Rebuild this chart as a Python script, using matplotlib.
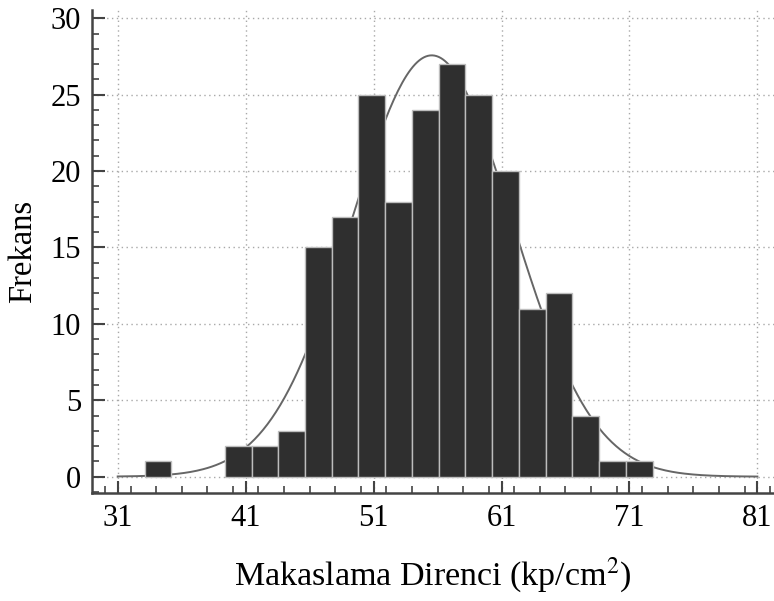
import numpy as np
import matplotlib
matplotlib.use("Agg")
import matplotlib.pyplot as plt
from matplotlib.ticker import MultipleLocator

# histogram counts (bins of ~2.09 starting at ~33.1)
counts = [1, 0, 0, 2, 2, 3, 15, 17, 25, 18, 24, 27, 25, 20, 11, 12, 4, 1, 1]
bin_start = 33.1
bin_width = 2.09

x_ticks = [31, 41, 51, 61, 71, 81]
y_ticks = [0, 5, 10, 15, 20, 25, 30]

plt.rcParams["font.family"] = ["Liberation Serif", "DejaVu Serif"]
plt.rcParams["mathtext.fontset"] = "stix"

counts = np.array(counts)
edges = bin_start + bin_width * np.arange(len(counts) + 1)
mids = (edges[:-1] + edges[1:]) / 2

# normal fit from the binned data
n = counts.sum()
mu = (mids * counts).sum() / n
sd = np.sqrt(((mids - mu) ** 2 * counts).sum() / n)
xs = np.linspace(x_ticks[0], x_ticks[-1], 300)
fit = n * bin_width * np.exp(-0.5 * ((xs - mu) / sd) ** 2) / (sd * np.sqrt(2 * np.pi))

fig = plt.figure(figsize=(7.74, 6.01), dpi=100)
ax = fig.add_axes([92 / 774, 1 - 493 / 601, 682 / 774, 483 / 601])

ax.set_xlim(28.99, 82.3)
ax.set_ylim(-1.07, 30.54)

for xv in x_ticks:
    ax.axvline(xv, color="#a8a8a8", lw=1.0, ls=(0, (1, 2.5)), zorder=0)
for yv in y_ticks:
    ax.axhline(yv, color="#a8a8a8", lw=1.0, ls=(0, (1, 2.5)), zorder=0)

ax.plot(xs, fit, color="#666666", lw=1.4, zorder=1)

nz = counts > 0
ax.bar(edges[:-1][nz], counts[nz], width=bin_width, align="edge",
       color="#2f2f2f", edgecolor="#bdbdbd", linewidth=1.0, zorder=2)

ax.set_xticks(x_ticks)
ax.set_yticks(y_ticks)
ax.xaxis.set_minor_locator(MultipleLocator(2))
ax.yaxis.set_minor_locator(MultipleLocator(1))
ax.tick_params(axis="both", which="major", direction="in", length=9, width=1.5,
               color="#444444", labelsize=22, pad=8)
ax.tick_params(axis="both", which="minor", direction="in", length=5, width=1.2,
               color="#444444")

for side in ["top", "right"]:
    ax.spines[side].set_visible(False)
for side in ["left", "bottom"]:
    ax.spines[side].set_color("#444444")
    ax.spines[side].set_linewidth(1.8)

ax.set_xlabel("Makaslama Direnci (kp/cm$^2$)", fontsize=24.5, labelpad=16)
ax.set_ylabel("Frekans", fontsize=23.5, labelpad=9)

fig.savefig("out.png", dpi=100)
plt.close(fig)
